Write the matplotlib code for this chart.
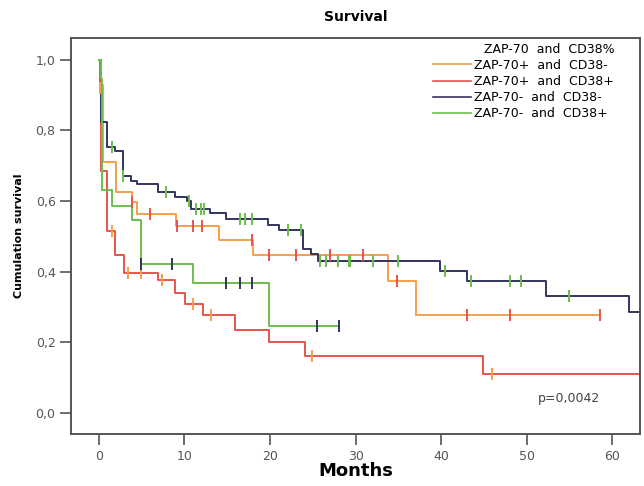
import matplotlib
matplotlib.use('Agg')
import matplotlib.pyplot as plt
from matplotlib.lines import Line2D
import numpy as np

# Kaplan-Meier step curves (months, cumulative survival)
orange_t = [0, 0.1, 0.5, 2.0, 3.9, 4.5, 9.0, 14.0, 18.0, 33.8, 37.1]
orange_s = [1.0, 0.93, 0.71, 0.625, 0.597, 0.564, 0.528, 0.49, 0.448, 0.372, 0.278]
orange_end = 58.6
orange_cens = [0.1, 3.9, 6.0, 9.1, 11.0, 12.1, 17.9, 19.9, 23.0, 27.0, 30.9, 34.8, 43.0, 48.0, 58.6]

red_t = [0, 0.1, 0.3, 1.0, 1.9, 2.9, 6.9, 8.9, 10.1, 12.2, 15.9, 19.9, 24.1, 44.9]
red_s = [1.0, 0.92, 0.686, 0.515, 0.446, 0.397, 0.375, 0.34, 0.309, 0.278, 0.236, 0.2, 0.162, 0.11]
red_end = 64.0
red_cens = [0.1, 1.5, 3.4, 4.9, 7.4, 11.0, 13.1, 24.9, 45.9]

navy_t = [0, 0.3, 1.0, 1.9, 2.85, 3.8, 4.5, 6.9, 8.9, 10.3, 10.8, 13.0, 14.9, 19.8, 21.0,
          23.9, 24.8, 25.6, 39.9, 43.0, 52.2, 62.0]
navy_s = [1.0, 0.823, 0.753, 0.743, 0.672, 0.658, 0.649, 0.625, 0.611, 0.60, 0.578, 0.566,
          0.55, 0.533, 0.517, 0.465, 0.45, 0.429, 0.403, 0.372, 0.33, 0.285]
navy_end = 64.0
navy_cens = [1.5, 2.85, 7.9, 10.5, 11.3, 11.9, 12.3, 16.5, 17.1, 17.9, 22.1, 23.6, 25.8, 26.5,
             28.0, 29.2, 29.4, 32.0, 34.9, 40.4, 43.5, 48.0, 49.3, 54.9]

green_t = [0, 0.2, 0.4, 1.5, 3.9, 4.9, 11.0, 19.9]
green_s = [1.0, 0.945, 0.63, 0.585, 0.545, 0.422, 0.367, 0.245]
green_end = 28.1
green_cens = [4.9, 8.5, 14.9, 16.5, 17.9, 25.5, 28.1]

labels = ['ZAP-70+  and  CD38-', 'ZAP-70+  and  CD38+', 'ZAP-70-  and  CD38-', 'ZAP-70-  and  CD38+']

C_ORANGE = '#f4a04a'
C_RED = '#e8544c'
C_NAVY = '#34355f'
C_GREEN = '#6cbf4c'

fig = plt.figure(figsize=(6.44, 4.86), dpi=100)
ax = fig.add_axes([0.111, 0.107, 0.883, 0.815])

series = [
    (orange_t, orange_s, orange_end, orange_cens, C_ORANGE, C_RED),
    (red_t, red_s, red_end, red_cens, C_RED, C_ORANGE),
    (navy_t, navy_s, navy_end, navy_cens, C_NAVY, C_GREEN),
    (green_t, green_s, green_end, green_cens, C_GREEN, C_NAVY),
]

for t, s, end, cens, col, ccol in series:
    tt = list(t) + [end]
    ss = list(s) + [s[-1]]
    ax.step(tt, ss, where='post', color=col, lw=1.4, zorder=2)

# censor marks (drawn in the neighbouring colour, as in the original)
for t, s, end, cens, col, ccol in series:
    idx = np.searchsorted(t, cens, side='right') - 1
    yv = [s[i] for i in idx]
    ax.plot(cens, yv, ls='none', marker='|', ms=8, mew=1.4, color=ccol, zorder=3)

ax.set_xlim(-3.2, 63.25)
ax.set_ylim(-0.06, 1.062)
ax.set_xticks([0, 10, 20, 30, 40, 50, 60])
ax.set_yticks([0, 0.2, 0.4, 0.6, 0.8, 1.0])
ax.set_yticklabels(['0,0', '0,2', '0,4', '0,6', '0,8', '1,0'])
ax.tick_params(direction='out', length=8, width=1.2, color='#555555',
               labelcolor='#555555', labelsize=9)
for sp in ax.spines.values():
    sp.set_color('#555555')
    sp.set_linewidth(1.4)

ax.set_title('Survival', fontsize=10, fontweight='bold', pad=12)
ax.set_xlabel('Months', fontsize=13, fontweight='bold', labelpad=-1)
ax.set_ylabel('Cumulation survival', fontsize=8, fontweight='bold', labelpad=8)

ax.text(0.93, 0.09, 'p=0,0042', transform=ax.transAxes, ha='right', va='center',
        fontsize=9, color='#444444')

handles = [Line2D([], [], color=c, lw=1.2) for c in [C_ORANGE, C_RED, C_NAVY, C_GREEN]]
leg = ax.legend(handles, labels, title='ZAP-70  and  CD38%', loc='upper right',
                bbox_to_anchor=(0.97, 1.01),
                frameon=False, fontsize=9, title_fontsize=9, handlelength=3,
                handletextpad=0.3, labelspacing=0.25, borderaxespad=0.3)
leg._legend_box.align = 'right'

fig.savefig('out.png', dpi=100)
